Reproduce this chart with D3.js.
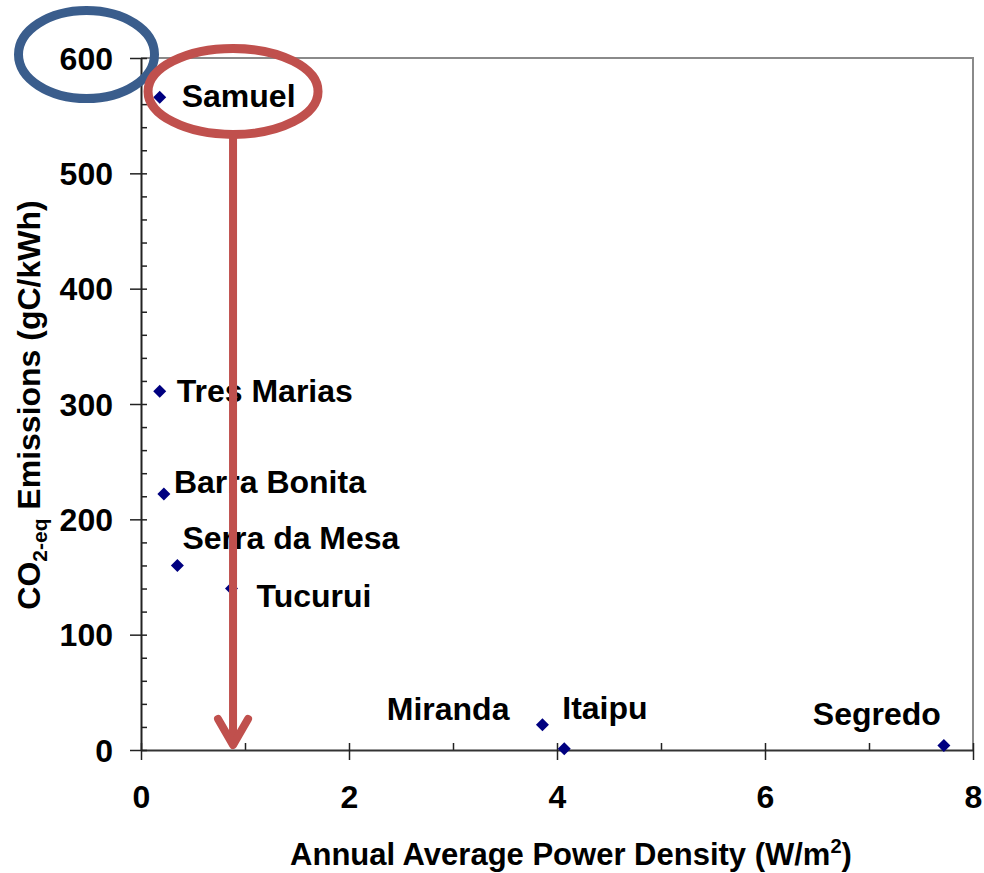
<!DOCTYPE html>
<html>
<head>
<meta charset="utf-8">
<script src="https://cdn.jsdelivr.net/npm/d3@7"></script>
<style>
  html, body { margin: 0; padding: 0; background: #fff; }
  svg { display: block; }
  text { font-family: "Liberation Sans", Arial, sans-serif; font-weight: bold; fill: #000; }
</style>
</head>
<body>
<svg id="chart" width="984" height="873"></svg>
<script>
// Hydropower reservoirs: annual average power density vs. CO2-eq emissions
const names = ["Samuel", "Tres Marias", "Barra Bonita", "Serra da Mesa", "Tucurui", "Miranda", "Itaipu", "Segredo"];
const powerDensity = [0.18, 0.18, 0.22, 0.35, 0.87, 3.86, 4.07, 7.72];   // W/m2
const emissions = [566, 311, 222, 160, 140, 22, 1, 4];                     // gC/kWh

const xMajorTicks = [0, 2, 4, 6, 8];
const xMinorTicks = [1, 3, 5, 7];
const yMajorTicks = [0, 100, 200, 300, 400, 500, 600];
const yMinorTicks = d3.range(20, 600, 20).filter(v => v % 100 !== 0);

// Annotation anchors in data units
const arrowX = 0.885;
const highlightY = 571;

// Label placement relative to each marker (pixels)
const labelLayout = {
  "Samuel":        { dx: 22, dy: 10, anchor: "start" },
  "Tres Marias":   { dx: 17, dy: 11, anchor: "start" },
  "Barra Bonita":  { dx: 10, dy: -1, anchor: "start" },
  "Serra da Mesa": { dx: 5,  dy: -16, anchor: "start" },
  "Tucurui":       { dx: 25, dy: 18, anchor: "start" },
  "Miranda":       { dx: -33, dy: -5, anchor: "end" },
  "Itaipu":        { dx: -2, dy: -30, anchor: "start" },
  "Segredo":       { dx: -3, dy: -20, anchor: "end" }
};

const points = names.map((n, i) => ({ name: n, x: powerDensity[i], y: emissions[i] }));

const svg = d3.select("#chart");
const plot = { left: 141, right: 973, top: 58, bottom: 750 };
const FS = 32;

const x = d3.scaleLinear().domain([0, 8]).range([plot.left, plot.right]);
const y = d3.scaleLinear().domain([0, 600]).range([plot.bottom, plot.top]);

// Plot frame (top and right edges)
svg.append("path")
  .attr("d", `M${plot.left},${plot.top}H${plot.right}V${plot.bottom}`)
  .attr("fill", "none").attr("stroke", "#8a8a8a").attr("stroke-width", 2);

// Minor ticks (inside)
svg.append("g").attr("transform", `translate(0,${plot.bottom})`)
  .call(d3.axisBottom(x).tickValues(xMinorTicks).tickSize(-7).tickFormat(""))
  .call(g => g.select(".domain").remove())
  .call(g => g.selectAll("line").attr("stroke", "#222").attr("stroke-width", 1.5));
svg.append("g").attr("transform", `translate(${plot.left},0)`)
  .call(d3.axisLeft(y).tickValues(yMinorTicks).tickSize(-6).tickFormat(""))
  .call(g => g.select(".domain").remove())
  .call(g => g.selectAll("line").attr("stroke", "#222").attr("stroke-width", 1.5));

// X axis with crossing major ticks
const xAxis = svg.append("g").attr("transform", `translate(0,${plot.bottom})`)
  .call(d3.axisBottom(x).tickValues(xMajorTicks).tickSize(10).tickPadding(25).tickSizeOuter(0).tickFormat(d3.format("d")));
xAxis.select(".domain").attr("stroke", "#333").attr("stroke-width", 2);
xAxis.selectAll(".tick line").attr("y1", -7).attr("stroke", "#222").attr("stroke-width", 1.5);
xAxis.selectAll(".tick text").attr("font-size", FS).attr("fill", "#000")
  .attr("font-family", "'Liberation Sans', Arial, sans-serif").attr("font-weight", "bold");

// Y axis with crossing major ticks
const yAxis = svg.append("g").attr("transform", `translate(${plot.left},0)`)
  .call(d3.axisLeft(y).tickValues(yMajorTicks).tickSize(11).tickPadding(17).tickSizeOuter(0).tickFormat(d3.format("d")));
yAxis.select(".domain").attr("stroke", "#222").attr("stroke-width", 2);
yAxis.selectAll(".tick line").attr("x1", 6).attr("stroke", "#222").attr("stroke-width", 1.5);
yAxis.selectAll(".tick text").attr("font-size", FS).attr("fill", "#000").attr("dy", "0.35em")
  .attr("font-family", "'Liberation Sans', Arial, sans-serif").attr("font-weight", "bold");

// Axis titles
const xt = svg.append("text")
  .attr("x", 571).attr("y", 865).attr("text-anchor", "middle").attr("font-size", 31);
xt.append("tspan").text("Annual Average Power Density (W/m");
xt.append("tspan").attr("font-size", 20).attr("dy", -12).text("2");
xt.append("tspan").attr("dy", 12).text(")");

const yt = svg.append("text")
  .attr("transform", `translate(40,405) rotate(-90)`)
  .attr("text-anchor", "middle").attr("font-size", FS);
yt.append("tspan").text("CO");
yt.append("tspan").attr("font-size", 21).attr("dy", 7).text("2-eq");
yt.append("tspan").attr("dy", -7).text(" Emissions (gC/kWh)");

// Markers
const diamond = "M0,-6.5L6.5,0L0,6.5L-6.5,0Z";
svg.append("g").selectAll("path").data(points).join("path")
  .attr("d", diamond)
  .attr("transform", d => `translate(${x(d.x)},${y(d.y)})`)
  .attr("fill", "#000080");

// Point labels
svg.append("g").selectAll("text").data(points).join("text")
  .attr("x", d => x(d.x) + labelLayout[d.name].dx)
  .attr("y", d => y(d.y) + labelLayout[d.name].dy)
  .attr("text-anchor", d => labelLayout[d.name].anchor)
  .attr("font-size", FS)
  .text(d => d.name);

// Highlight: tick label 600
const blue = "#3a5d8c", red = "#c0504d";
svg.append("ellipse")
  .attr("cx", 86.5).attr("cy", y(600) - 3.5).attr("rx", 68).attr("ry", 44)
  .attr("fill", "none").attr("stroke", blue).attr("stroke-width", 9);

// Highlight: Samuel label, with arrow down to the x axis
const ecx = x(arrowX), ecy = y(highlightY), erx = 85, ery = 43;
svg.append("ellipse")
  .attr("cx", ecx).attr("cy", ecy).attr("rx", erx).attr("ry", ery)
  .attr("fill", "none").attr("stroke", red).attr("stroke-width", 9);
const tipY = y(0) - 5;
svg.append("line")
  .attr("x1", ecx).attr("x2", ecx).attr("y1", ecy + ery).attr("y2", tipY - 2)
  .attr("stroke", red).attr("stroke-width", 8);
svg.append("path")
  .attr("d", `M${ecx - 15},${tipY - 26}L${ecx},${tipY}L${ecx + 15},${tipY - 26}`)
  .attr("fill", "none").attr("stroke", red).attr("stroke-width", 8)
  .attr("stroke-linecap", "round").attr("stroke-linejoin", "round");
</script>
</body>
</html>
